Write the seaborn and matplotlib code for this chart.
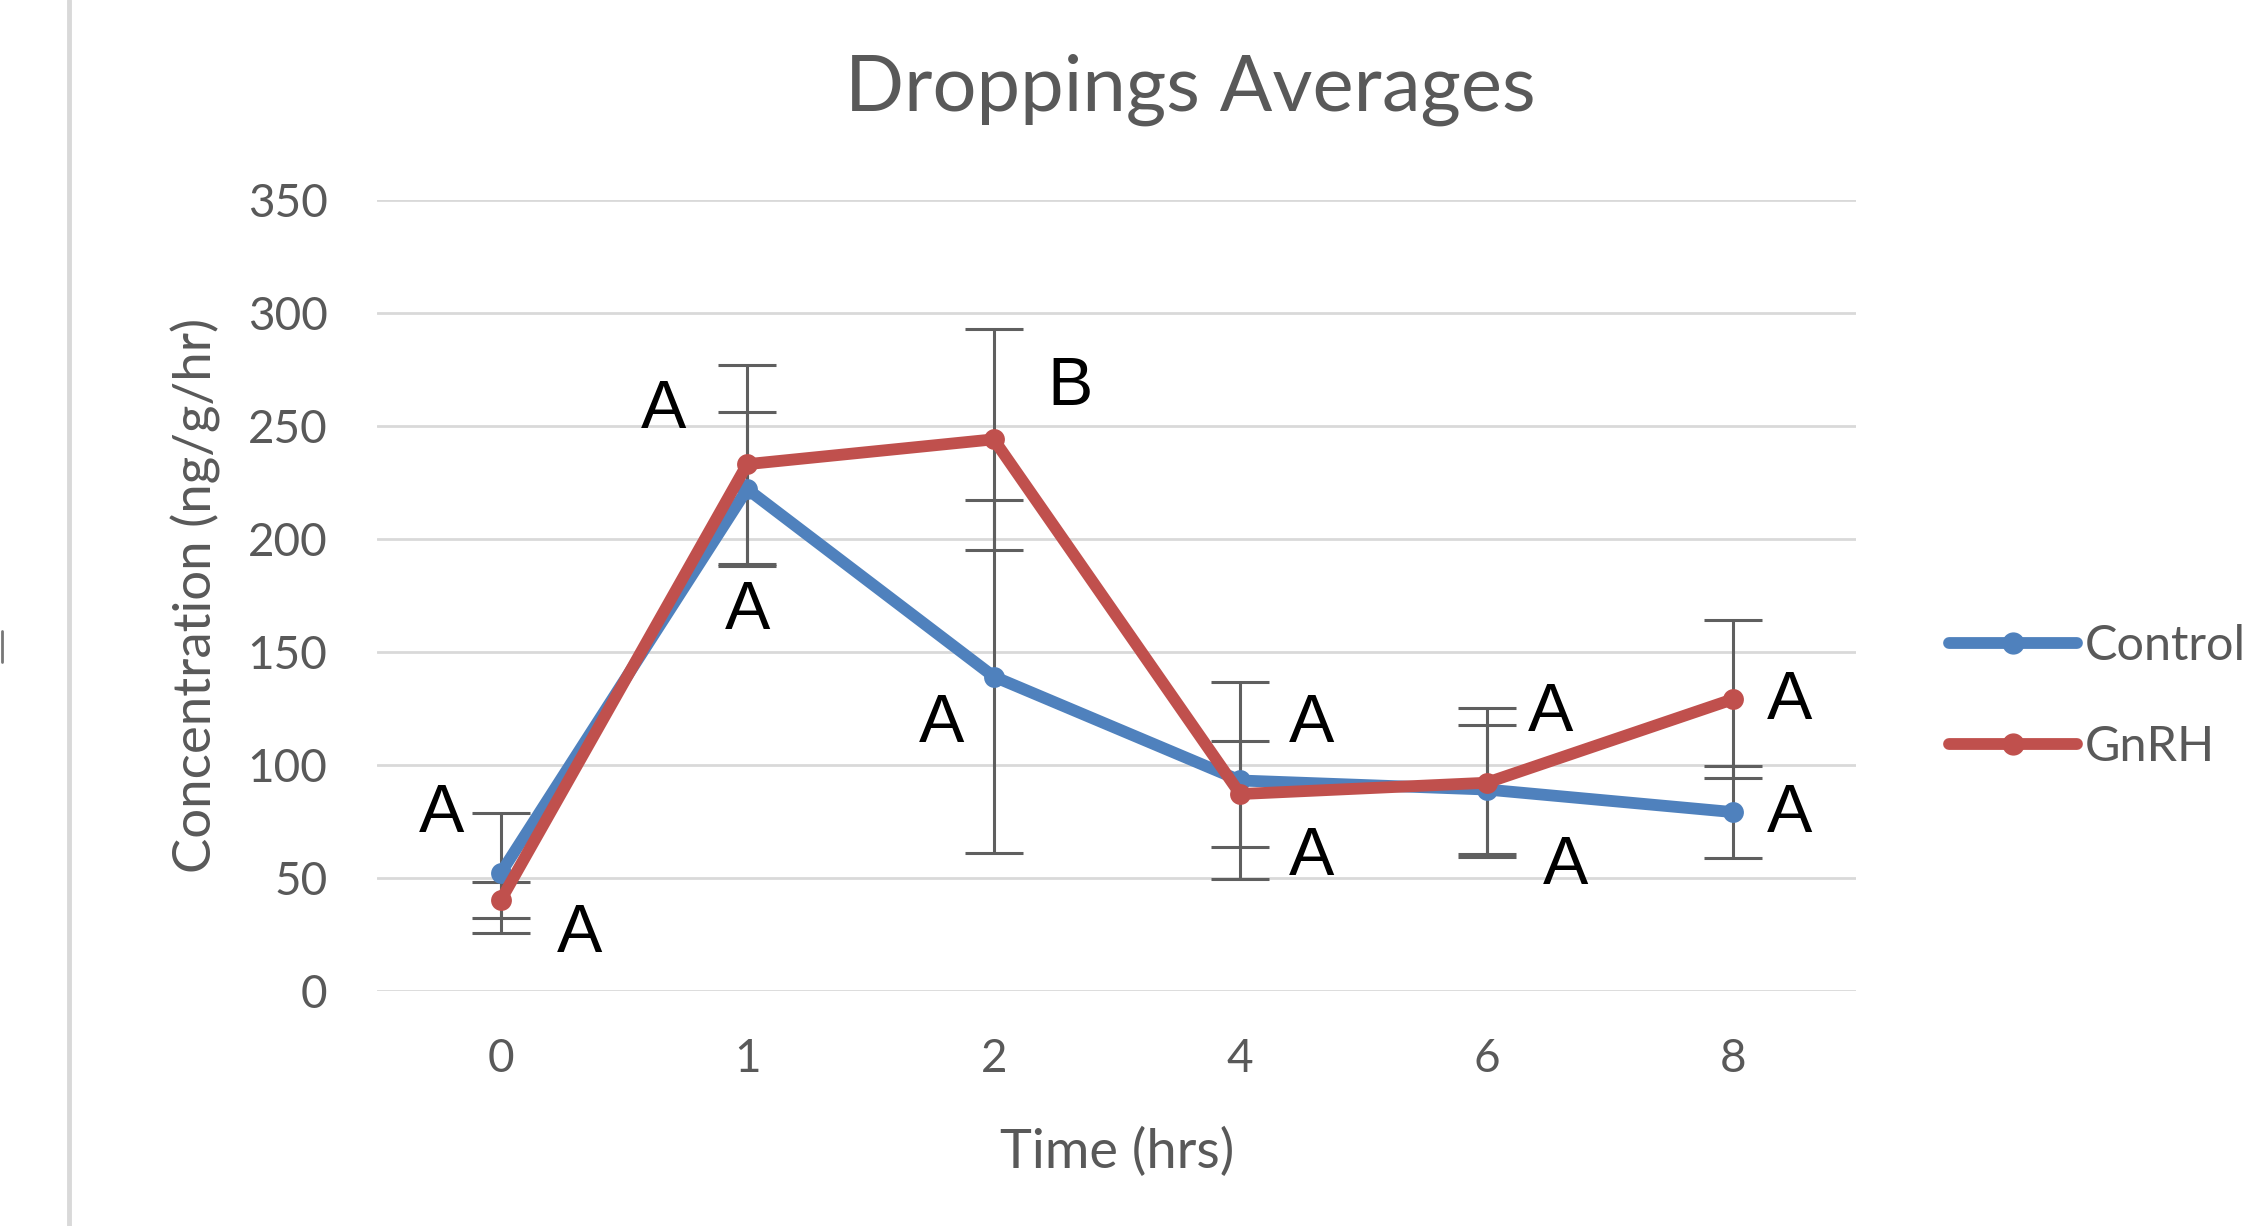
import matplotlib
matplotlib.use("Agg")
import matplotlib.pyplot as plt
import seaborn as sns
import pandas as pd
from matplotlib.lines import Line2D

# ------------------------------------------------------------
# Data
# ------------------------------------------------------------
times = ["0", "1", "2", "4", "6", "8"]
control_mean = [52, 222, 139, 93, 89, 79]
control_err = [26.5, 34, 78, 43.5, 28.5, 20.5]
gnrh_mean = [40, 233, 244, 87, 92, 129]
gnrh_err = [8, 44, 49, 23.5, 33, 35]

# significance letters: (category index offset, y value, letter)
letter_x = [-0.24, 0.32, 0.66, 1.0, 1.79, 2.31, 3.29, 3.29, 4.26, 4.32, 5.23, 5.23]
letter_y = [78, 25, 257, 168, 118, 267, 118, 59, 123, 55, 128, 78]
letters = ["A", "A", "A", "A", "A", "B", "A", "A", "A", "A", "A", "A"]

BLUE = "#4F81BD"
RED = "#C0504D"
GREY_TEXT = "#595959"
GRID = "#D9D9D9"

df = pd.DataFrame({
    "Time": times * 2,
    "Concentration": control_mean + gnrh_mean,
    "Group": ["Control"] * len(times) + ["GnRH"] * len(times),
})

sns.set_theme(style="white")
plt.rcParams["font.family"] = ["Lato", "DejaVu Sans"]

fig = plt.figure(figsize=(22.51, 12.26), dpi=100)
ax = fig.add_axes([0.1677, 0.192, 0.657, 0.645])

# error bars first so the lines sit on top
for means, errs in [(control_mean, control_err), (gnrh_mean, gnrh_err)]:
    ax.errorbar(times, means, yerr=errs, fmt="none", ecolor="#5F5F5F",
                elinewidth=2.2, capsize=21, capthick=2.2, zorder=2)

sns.lineplot(data=df, x="Time", y="Concentration", hue="Group",
             palette=[BLUE, RED], marker="o", markersize=15, linewidth=8.5,
             markeredgewidth=0, sort=False, ax=ax, zorder=3, legend=False)

for x, y, t in zip(letter_x, letter_y, letters):
    ax.text(x, y, t, ha="center", va="center", fontsize=49,
            family=["Liberation Sans", "DejaVu Sans"], color="black", zorder=4)

ax.set_xlim(-0.5, 5.5)
ax.set_ylim(0, 350)
ax.set_yticks(range(0, 351, 50))
ax.grid(axis="y", color=GRID, linewidth=2)
ax.set_axisbelow(True)
for s in ax.spines.values():
    s.set_visible(False)
ax.tick_params(axis="both", length=0, labelsize=33, labelcolor=GREY_TEXT)
ax.tick_params(axis="y", pad=36)
ax.tick_params(axis="x", pad=34)

ax.set_xlabel("Time (hrs)", fontsize=39, color=GREY_TEXT, labelpad=34)
ax.set_ylabel("Concentration (ng/g/hr)", fontsize=38, color=GREY_TEXT, labelpad=19)

fig.text(0.529, 0.927, "Droppings Averages", ha="center", va="center",
         fontsize=56, color=GREY_TEXT)

handles = [Line2D([], [], color=BLUE, linewidth=8.5, marker="o", markersize=15),
           Line2D([], [], color=RED, linewidth=8.5, marker="o", markersize=15)]
fig.legend(handles, ["Control", "GnRH"], loc="center left",
           bbox_to_anchor=(0.866, 0.432), frameon=False, fontsize=35,
           handlelength=2.63, handletextpad=0.15, labelspacing=1.16,
           labelcolor=GREY_TEXT, borderaxespad=0, borderpad=0)

# chart border line on the left
fig.add_artist(Line2D([0.0307, 0.0307], [0, 1], color=GRID, linewidth=3.5,
                      transform=fig.transFigure))
fig.add_artist(Line2D([0.001, 0.001], [0.46, 0.485], color="#777777", linewidth=2,
                      transform=fig.transFigure))

fig.savefig("out.png", dpi=100)
